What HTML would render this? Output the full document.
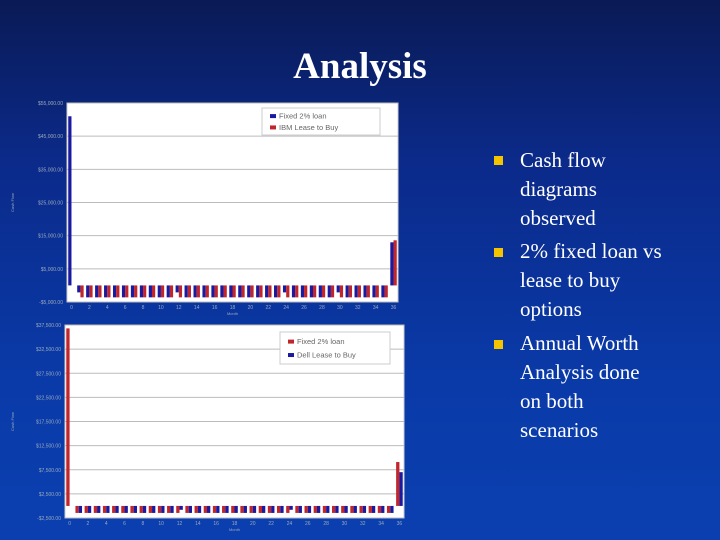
<!DOCTYPE html>
<html><head><meta charset="utf-8"><style>
body{margin:0;width:720px;height:540px;overflow:hidden;background:linear-gradient(180deg,#0a1a55 0%,#0b2a8a 30%,#0a3aa8 70%,#0b3fb0 100%);font-family:"Liberation Serif",serif;position:relative}
#title{position:absolute;left:0;width:720px;top:45px;text-align:center;color:#fff;font-size:37px;font-weight:bold}
.b{position:absolute;left:520px;color:#fff;font-size:21px;line-height:29px;width:190px}
.sq{position:absolute;left:494px;width:9px;height:9px;background:#f5c400}
svg{position:absolute;left:0;top:0}
</style></head><body>
<div id="title">Analysis</div>
<div class="sq" style="top:156px"></div>
<div class="b" style="top:146px">Cash flow<br>diagrams<br>observed</div>
<div class="sq" style="top:248px"></div>
<div class="b" style="top:237px">2% fixed loan vs<br>lease to buy<br>options</div>
<div class="sq" style="top:340px"></div>
<div class="b" style="top:329px">Annual Worth<br>Analysis done<br>on both<br>scenarios</div>
<svg id="s" width="720" height="540"></svg>
<script>
const months=[];for(let i=0;i<=36;i++)months.push(i);
const ibmFixed=[51000,-2100,-3600,-3600,-3600,-3600,-3600,-3600,-3600,-3600,-3600,-3600,-2100,-3600,-3600,-3600,-3600,-3600,-3600,-3600,-3600,-3600,-3600,-3600,-2100,-3600,-3600,-3600,-3600,-3600,-2100,-3600,-3600,-3600,-3600,-3600,13000];
const ibmLease=[0,-3600,-3600,-3600,-3600,-3600,-3600,-3600,-3600,-3600,-3600,-3600,-3600,-3600,-3600,-3600,-3600,-3600,-3600,-3600,-3600,-3600,-3600,-3600,-3600,-3600,-3600,-3600,-3600,-3600,-3600,-3600,-3600,-3600,-3600,-3600,13600];
const ibmTicks=[-5000,5000,15000,25000,35000,45000,55000];
const dellFixed=[36800,-1450,-1450,-1450,-1450,-1450,-1450,-1450,-1450,-1450,-1450,-1450,-1450,-1450,-1450,-1450,-1450,-1450,-1450,-1450,-1450,-1450,-1450,-1450,-1450,-1450,-1450,-1450,-1450,-1450,-1450,-1450,-1450,-1450,-1450,-1450,9100];
const dellLease=[0,-1450,-1450,-1450,-1450,-1450,-1450,-1450,-1450,-1450,-1450,-1450,-800,-1450,-1450,-1450,-1450,-1450,-1450,-1450,-1450,-1450,-1450,-1450,-800,-1450,-1450,-1450,-1450,-1450,-1450,-1450,-1450,-1450,-1450,-1450,7000];
const dellTicks=[-2500,2500,7500,12500,17500,22500,27500,32500,37500];
const xTicks=[0,2,4,6,8,10,12,14,16,18,20,22,24,26,28,30,32,34,36];
const NS="http://www.w3.org/2000/svg";const svg=document.getElementById('s');
function mk(t,a){const e=document.createElementNS(NS,t);for(const k in a)e.setAttribute(k,a[k]);svg.appendChild(e);return e;}
function fmt(v){return (v<0?'-$':'$')+Math.abs(v).toLocaleString('en-US')+'.00';}
function chart(p,ticks,s1,s2,c1,c2,l1,l2,leg,id){
  const ymin=ticks[0],ymax=ticks[ticks.length-1];
  const y=v=>p.y1-(v-ymin)/(ymax-ymin)*(p.y1-p.y0);
  const gw=(p.x1-p.x0)/months.length;const x=i=>p.x0+i*gw;
  let r=mk('rect',{x:p.x0,y:p.y0,width:p.x1-p.x0,height:p.y1-p.y0,fill:'#fff',stroke:'#ccc'});
  
  ticks.forEach(t=>{const l=mk('line',{x1:p.x0,x2:p.x1,y1:y(t),y2:y(t),stroke:'#bbb','stroke-width':1});
    
    const tx=mk('text',{x:p.x0-4,y:y(t)+2,'font-size':5,fill:'#9ab','text-anchor':'end','font-family':'Liberation Sans'});tx.textContent=fmt(t);
    });
  const bw=gw*0.36;
  months.forEach((m,i)=>{[[s1,c1,0],[s2,c2,1]].forEach(([s,c,k])=>{const v=s[i];if(v===0)return;
    const a=y(Math.max(v,0)),b=y(Math.min(v,0));const br=mk('rect',{x:x(i)+gw*0.14+k*bw,y:a,width:bw,height:b-a,fill:c});
    });});
  xTicks.forEach(t=>{const tx=mk('text',{x:x(t)+gw/2,y:p.y1+7,'font-size':5,fill:'#9ab','text-anchor':'middle','font-family':'Liberation Sans'});tx.textContent=t;
    });
  let xt=mk('text',{x:(p.x0+p.x1)/2,y:p.y1+13,'font-size':4,fill:'#9ab','text-anchor':'middle','font-family':'Liberation Sans'});xt.textContent='Month';
  
  let yt=mk('text',{x:0,y:0,'font-size':4,fill:'#9ab','text-anchor':'middle','font-family':'Liberation Sans',transform:`translate(14,${(p.y0+p.y1)/2}) rotate(-90)`});yt.textContent='Cash Flow';
  
  let lg=mk('rect',{x:leg.x,y:leg.y,width:leg.w,height:leg.h,fill:'#fff',stroke:'#ccc'});
  
  [[l1,c1],[l2,c2]].forEach(([t,c],k)=>{const yy=leg.y+leg.h*(0.3+0.42*k);
    const sw=mk('rect',{x:leg.x+8,y:yy-2,width:6,height:4,fill:c});
    const tx=mk('text',{x:leg.x+17,y:yy+2.5,'font-size':7.5,fill:'#666','font-family':'Liberation Sans'});tx.textContent=t;
    });
}
chart({x0:67,x1:398,y0:103,y1:302},ibmTicks,ibmFixed,ibmLease,'#1a1aa0','#c0262b','Fixed 2% loan','IBM Lease to Buy',{x:262,y:108,w:118,h:27},'ibm-chart');
chart({x0:65,x1:404,y0:325,y1:518},dellTicks,dellFixed,dellLease,'#c0262b','#1a1aa0','Fixed 2% loan','Dell Lease to Buy',{x:280,y:332,w:110,h:32},'dell-chart');
</script>
</body></html>
